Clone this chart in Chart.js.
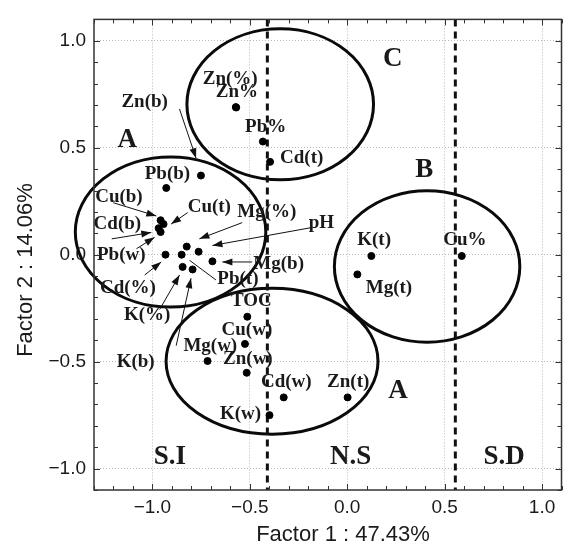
<!DOCTYPE html>
<html><head><meta charset="utf-8">
<script src="https://cdn.jsdelivr.net/npm/chart.js@4/dist/chart.umd.min.js"></script>
<style>html,body{margin:0;padding:0;background:#fff;}</style>
</head><body>
<canvas id="c" width="566" height="549"></canvas>
<script>
// ---- data ----
const variables = ['Zn(%)','Zn%','Pb%','Cd(t)','Zn(b)','Pb(b)','Cu(b)','Cu(t)','Cd(b)','Pb(w)','Cd(%)','Mg(%)','Pb(t)','pH','Mg(b)','K(%)','K(b)','TOC','Cu(w)','Mg(w)','Zn(w)','Cd(w)','Zn(t)','K(w)','K(t)','Mg(t)','Cu%'];
const factor1 = [-0.572,-0.570,-0.433,-0.396,-0.751,-0.929,-0.958,-0.943,-0.968,-0.958,-0.933,-0.824,-0.850,-0.763,-0.692,-0.845,-0.794,-0.513,-0.525,-0.717,-0.516,-0.326,0.002,-0.399,0.124,0.052,0.588];
const factor2 = [0.690,0.688,0.529,0.434,0.370,0.312,0.161,0.143,0.124,0.106,0.000,0.038,0.000,0.014,-0.031,-0.057,-0.069,-0.290,-0.417,-0.497,-0.552,-0.667,-0.667,-0.750,-0.006,-0.092,-0.006];
const xTickValues = [-1.0,-0.5,0.0,0.5,1.0];
const yTickValues = [-1.0,-0.5,0.0,0.5,1.0];
const xTitle = 'Factor 1 : 47.43%';
const yTitle = 'Factor 2 : 14.06%';
const zoneNames = ['S.I','N.S','S.D'];
const zoneBoundaries = [-0.41, 0.555];
const groupNames = ['A','C','B','A'];

// ---- layout (positions in data units, kept apart from the data) ----
const labelPos = {
 'Zn(%)':[-0.601,0.819],'Zn%':[-0.566,0.759],'Pb%':[-0.419,0.595],'Cd(t)':[-0.234,0.451],
 'Zn(b)':[-1.040,0.713],'Pb(b)':[-0.923,0.377],'Cu(b)':[-1.172,0.269],'Cd(b)':[-1.180,0.143],
 'Pb(w)':[-1.160,-0.003],'Cd(%)':[-1.126,-0.156],'K(%)':[-1.027,-0.283],'K(b)':[-1.086,-0.504],
 'Cu(t)':[-0.708,0.223],'Mg(%)':[-0.413,0.198],'pH':[-0.133,0.150],'Mg(b)':[-0.352,-0.046],
 'Pb(t)':[-0.561,-0.113],'TOC':[-0.492,-0.216],'Cu(w)':[-0.515,-0.352],'Mg(w)':[-0.703,-0.428],
 'Zn(w)':[-0.510,-0.488],'Cd(w)':[-0.313,-0.596],'Zn(t)':[0.005,-0.596],'K(w)':[-0.548,-0.743],
 'K(t)':[0.138,0.067],'Mg(t)':[0.214,-0.156],'Cu%':[0.604,0.067]
};
const arrows = [
 [-0.861,0.681,-0.776,0.451,true],
 [-1.201,0.243,-0.980,0.181,true],
 [-1.209,0.074,-1.006,0.104,true],
 [-1.082,0.028,-0.989,0.081,true],
 [-0.819,0.197,-0.904,0.143,true],
 [-0.539,0.150,-0.759,0.074,true],
 [-0.182,0.127,-0.692,0.043,true],
 [-0.488,-0.034,-0.641,-0.034,true],
 [-0.674,-0.118,-0.810,-0.026,false],
 [-1.040,-0.095,-0.955,-0.034,true],
 [-0.963,-0.256,-0.861,-0.095,true],
 [-0.878,-0.425,-0.802,-0.110,true]
];
const ellipses = [ // cx, cy, rx, ry
 [-0.907,0.106,0.489,0.351],
 [-0.344,0.703,0.479,0.353],
 [0.410,-0.055,0.476,0.354],
 [-0.386,-0.498,0.544,0.341]
];
const groupPos = [[-1.129,0.538],[0.234,0.916],[0.396,0.396],[0.260,-0.635]];
const zonePos = [[-0.910,-0.948],[0.018,-0.948],[0.805,-0.948]];

const fmt = v => (v < 0 ? '\u2212' : '') + Math.abs(v).toFixed(1);

const overlay = {
 id: 'overlay',
 beforeDatasetsDraw(chart) {
  const {ctx, chartArea: a, scales: {x, y}} = chart;
  ctx.save();
  // ellipses (not clipped: the left one runs over the axis in the reference)
  ctx.strokeStyle = '#0a0a0a';
  ctx.lineWidth = 3;
  ellipses.forEach(e => {
   const cx = x.getPixelForValue(e[0]), cy = y.getPixelForValue(e[1]);
   const rx = Math.abs(x.getPixelForValue(e[0] + e[2]) - cx);
   const ry = Math.abs(y.getPixelForValue(e[1] + e[3]) - cy);
   ctx.beginPath(); ctx.ellipse(cx, cy, rx, ry, 0, 0, Math.PI * 2); ctx.stroke();
  });
  // dashed zone boundaries
  ctx.beginPath(); ctx.rect(a.left, a.top, a.right - a.left, a.bottom - a.top); ctx.clip();
  ctx.strokeStyle = '#111'; ctx.lineWidth = 3; ctx.setLineDash([7,5]);
  zoneBoundaries.forEach(b => {
   const px = x.getPixelForValue(b);
   ctx.beginPath(); ctx.moveTo(px, a.top); ctx.lineTo(px, a.bottom); ctx.stroke();
  });
  ctx.setLineDash([]);
  ctx.restore();
 },
 afterDatasetsDraw(chart) {
  const {ctx, chartArea: a, scales: {x, y}} = chart;
  ctx.save();
  // arrows
  ctx.strokeStyle = '#111'; ctx.fillStyle = '#111'; ctx.lineWidth = 1;
  arrows.forEach(r => {
   const x1 = x.getPixelForValue(r[0]), y1 = y.getPixelForValue(r[1]);
   const x2 = x.getPixelForValue(r[2]), y2 = y.getPixelForValue(r[3]);
   ctx.beginPath(); ctx.moveTo(x1, y1); ctx.lineTo(x2, y2); ctx.stroke();
   if (r[4]) {
    const ang = Math.atan2(y2 - y1, x2 - x1), L = 10, W = 3.5;
    ctx.beginPath();
    ctx.moveTo(x2, y2);
    ctx.lineTo(x2 - L * Math.cos(ang) + W * Math.sin(ang), y2 - L * Math.sin(ang) - W * Math.cos(ang));
    ctx.lineTo(x2 - L * Math.cos(ang) - W * Math.sin(ang), y2 - L * Math.sin(ang) + W * Math.cos(ang));
    ctx.closePath(); ctx.fill();
   }
  });
  // variable labels
  ctx.fillStyle = '#1a1a1a';
  ctx.textAlign = 'center'; ctx.textBaseline = 'middle';
  ctx.font = 'bold 19px "Liberation Serif", "Times New Roman", serif';
  variables.forEach(n => {
   const p = labelPos[n]; if (!p) return;
   ctx.fillText(n, x.getPixelForValue(p[0]), y.getPixelForValue(p[1]));
  });
  // group letters
  ctx.font = 'bold 27px "Liberation Serif", "Times New Roman", serif';
  groupNames.forEach((g, i) => ctx.fillText(g, x.getPixelForValue(groupPos[i][0]), y.getPixelForValue(groupPos[i][1])));
  // zone names
  zoneNames.forEach((z, i) => ctx.fillText(z, x.getPixelForValue(zonePos[i][0]), y.getPixelForValue(zonePos[i][1])));
  ctx.restore();
 },
 afterDraw(chart) {
  const {ctx, chartArea: a, scales: {x, y}} = chart;
  ctx.save();
  ctx.strokeStyle = '#333'; ctx.lineWidth = 1.5;
  ctx.strokeRect(a.left, a.top, a.right - a.left, a.bottom - a.top);
  ctx.lineWidth = 1;
  for (let i = -13; i <= 11; i++) {
   const v = i / 10, px = Math.round(x.getPixelForValue(v)) + 0.5, len = (i % 5 === 0) ? 6 : 4;
   ctx.beginPath(); ctx.moveTo(px, a.bottom); ctx.lineTo(px, a.bottom - len);
   ctx.moveTo(px, a.top); ctx.lineTo(px, a.top + len); ctx.stroke();
  }
  for (let i = -11; i <= 11; i++) {
   const v = i / 10, py = Math.round(y.getPixelForValue(v)) + 0.5, len = (i % 5 === 0) ? 6 : 4;
   ctx.beginPath(); ctx.moveTo(a.left, py); ctx.lineTo(a.left + len, py);
   ctx.moveTo(a.right, py); ctx.lineTo(a.right - len, py); ctx.stroke();
  }
  // axis titles
  ctx.fillStyle = '#1a1a1a';
  ctx.font = '22px "Liberation Sans", Arial, sans-serif';
  ctx.textAlign = 'center'; ctx.textBaseline = 'middle';
  ctx.fillText(xTitle, 343, 535);
  ctx.translate(26, 270); ctx.rotate(-Math.PI / 2);
  ctx.fillText(yTitle, 0, 0);
  ctx.restore();
 }
};

new Chart(document.getElementById('c'), {
 type: 'scatter',
 data: {
  datasets: [{
   label: 'Variables',
   data: factor1.map((v, i) => ({x: v, y: factor2[i], name: variables[i]})),
   backgroundColor: '#000', borderColor: '#000',
   pointRadius: 3.5, pointHoverRadius: 3.5
  }]
 },
 options: {
  responsive: false, animation: false, devicePixelRatio: 1,
  layout: {padding: {left: 0, top: 12, right: 1, bottom: 0}},
  plugins: {legend: {display: false}, tooltip: {enabled: false}},
  scales: {
   x: {
    type: 'linear', min: -1.3, max: 1.1,
    afterBuildTicks: s => { s.ticks = xTickValues.map(v => ({value: v})); },
    afterFit: s => { s.height = 59; },
    grid: {color: '#b8b8b8', drawTicks: false, lineWidth: 1},
    border: {display: false, dash: [1, 2]},
    ticks: {padding: 6, color: '#1a1a1a', font: {family: '"Liberation Sans", Arial, sans-serif', size: 19}, callback: v => fmt(v), maxRotation: 0, autoSkip: false},
    title: {display: false, text: xTitle}
   },
   y: {
    type: 'linear', min: -1.1, max: 1.1,
    afterBuildTicks: s => { s.ticks = yTickValues.map(v => ({value: v})); },
    afterFit: s => { s.width = 94; },
    grid: {color: '#b8b8b8', drawTicks: false, lineWidth: 1},
    border: {display: false, dash: [1, 2]},
    ticks: {padding: 8, color: '#1a1a1a', font: {family: '"Liberation Sans", Arial, sans-serif', size: 19}, callback: v => fmt(v), autoSkip: false},
    title: {display: false, text: yTitle}
   }
  }
 },
 plugins: [overlay]
});
</script>
</body></html>
